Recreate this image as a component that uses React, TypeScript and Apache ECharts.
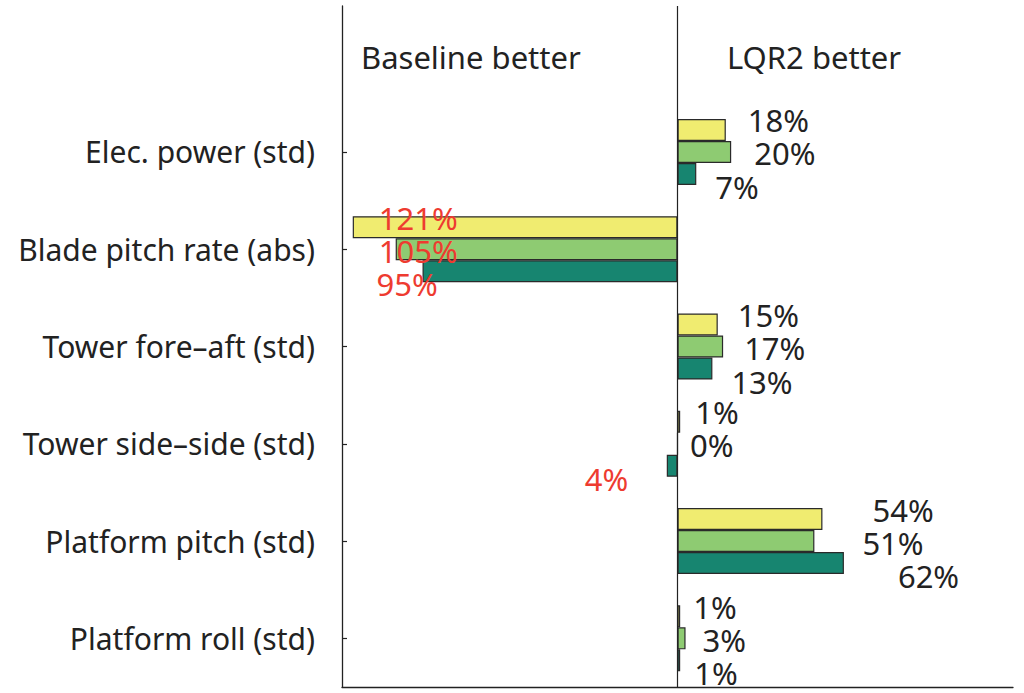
import React, { useEffect, useRef } from "react";
import * as echarts from "echarts";

const categories = [
  "Elec. power (std)",
  "Blade pitch rate (abs)",
  "Tower fore–aft (std)",
  "Tower side–side (std)",
  "Platform pitch (std)",
  "Platform roll (std)",
];
const seriesNames = ["Case 1", "Case 2", "Case 3"];
const case1 = [18, -121, 15, 1, 54, 1];
const case2 = [20, -105, 17, 0, 51, 3];
const case3 = [7, -95, 13, -4, 62, 1];
const headerLeft = "Baseline better";
const headerRight = "LQR2 better";

// label placement (style)
const labelDx = [
  [22, 26, 20, 15, 50, 13],
  [23, -17, 21, 12, 48, 17],
  [19, -46, 19, -82, 54, 14],
];
const labelDy = [-9.5, 1.5, 13];
const colors = ["#f0ec70", "#8ecb72", "#178570"];
const FONT = "Noto Sans";

export default function App() {
  const ref = useRef<HTMLDivElement>(null);
  useEffect(() => {
    if (!ref.current) return;
    const chart = echarts.init(ref.current, null, { renderer: "svg" });
    const all = [case1, case2, case3];
    const series: any[] = all.map((vals, s) => ({
      name: seriesNames[s],
      type: "bar",
      barWidth: 22,
      barGap: "0%",
      itemStyle: { color: colors[s], borderColor: "#2a2a2a", borderWidth: 1.2 },
      data: [
        "-",
        ...vals.map((v, c) => ({
          value: v,
          label: {
            show: true,
            position: v < 0 ? "left" : "right",
            align: "left",
            distance: 0,
            offset: [labelDx[s][c], labelDy[s]],
            color: v < 0 ? "#ee3b30" : "#222",
            fontFamily: FONT,
            fontSize: 31,
            formatter: () => Math.abs(v) + "%",
          },
        })),
      ],
      markLine:
        s === 0
          ? {
              silent: true,
              symbol: "none",
              label: { show: false },
              lineStyle: { color: "#222", width: 1.2, type: "solid" },
              data: [{ xAxis: 0 }],
            }
          : undefined,
    }));
    chart.setOption({
      animation: false,
      grid: { left: 342, right: 11, top: 6, bottom: 6, containLabel: false },
      xAxis: {
        type: "value",
        min: -125,
        max: 125,
        axisLabel: { show: false },
        axisTick: { show: false },
        splitLine: { show: false },
        axisLine: { show: true, onZero: false, lineStyle: { color: "#222", width: 1.3 } },
      },
      yAxis: {
        type: "category",
        inverse: true,
        data: ["", ...categories],
        axisLine: { show: true, onZero: false, lineStyle: { color: "#222", width: 1.3 } },
        axisTick: {
          show: true,
          inside: true,
          length: 5,
          alignWithLabel: true,
          interval: (i: number, v: string) => v !== "",
          lineStyle: { color: "#222", width: 1.2 },
        },
        axisLabel: { margin: 27, color: "#222", fontFamily: FONT, fontSize: 30 },
        splitLine: { show: false },
      },
      graphic: [
        {
          type: "text",
          x: 361,
          y: 57,
          style: { text: headerLeft, fill: "#222", font: `31px "${FONT}"`, textVerticalAlign: "middle" },
        },
        {
          type: "text",
          x: 727,
          y: 57,
          style: { text: headerRight, fill: "#222", font: `31px "${FONT}"`, textVerticalAlign: "middle" },
        },
      ],
      series,
    });
    return () => chart.dispose();
  }, []);
  return (
    <div
      ref={ref}
      style={{ position: "fixed", left: 0, top: 0, width: 1024, height: 693, background: "#fff" }}
    />
  );
}
